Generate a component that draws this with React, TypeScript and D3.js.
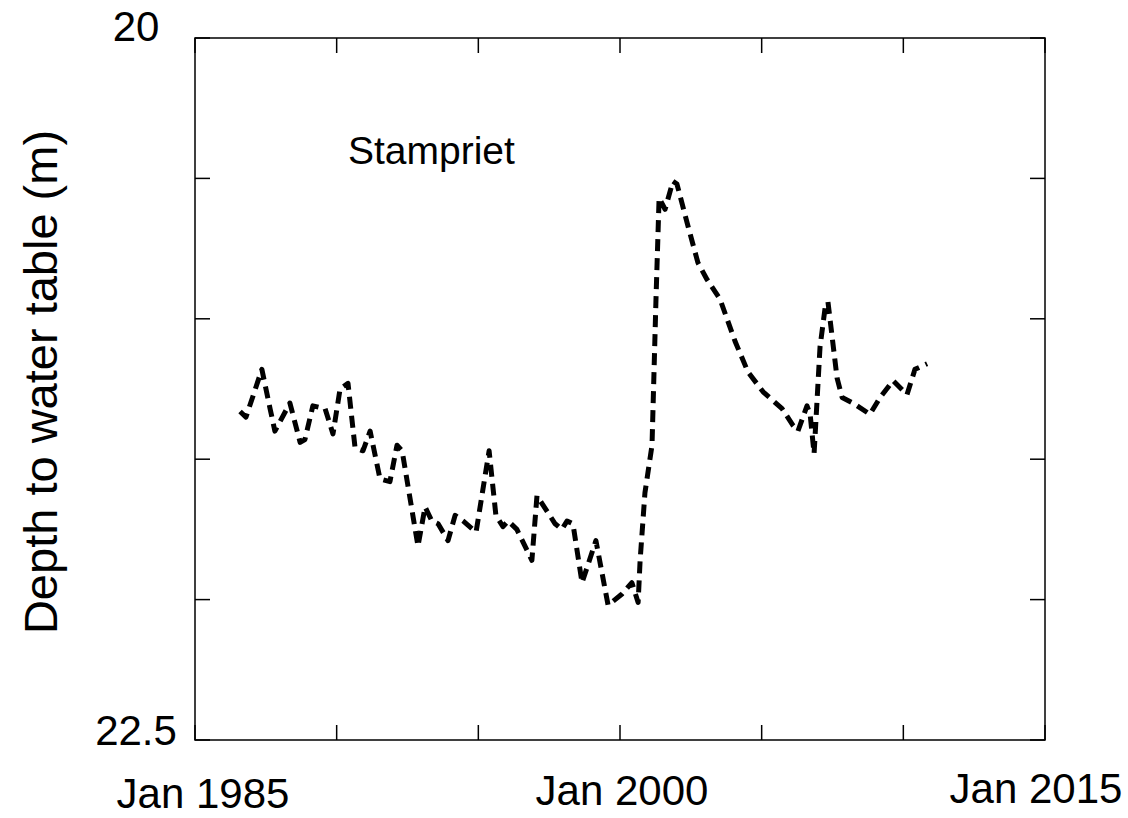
import React from "react";
import * as d3 from "d3";

// Decimal years and depth to water table (m)
const years: number[] = [
  1986.59, 1986.8, 1987.36, 1987.65, 1987.82, 1988.35, 1988.71, 1988.88, 1989.16, 1989.59,
  1989.87, 1990.12, 1990.4, 1990.65, 1990.93, 1991.18, 1991.53, 1991.88, 1992.13, 1992.31,
  1992.87, 1993.12, 1993.36, 1993.58, 1993.93, 1994.18, 1994.46, 1994.92, 1995.38, 1995.62,
  1995.87, 1996.05, 1996.36, 1996.89, 1997.07, 1997.71, 1997.95, 1998.13, 1998.34, 1998.66,
  1999.15, 1999.58, 2000.07, 2000.42, 2000.64, 2000.71, 2000.88, 2001.13, 2001.27, 2001.38,
  2001.59, 2001.87, 2002.01, 2002.4, 2002.75, 2003.07, 2003.53, 2004.06, 2004.52, 2005.05,
  2005.72, 2006.11, 2006.28, 2006.6, 2006.71, 2006.85, 2007.06, 2007.24, 2007.34, 2007.66,
  2007.84, 2008.22, 2008.82, 2009.18, 2009.64, 2010.13, 2010.41, 2010.84,
];
const depths: number[] = [
  21.33, 21.35, 21.18, 21.32, 21.4, 21.3, 21.44, 21.43, 21.31, 21.32,
  21.41, 21.25, 21.23, 21.46, 21.47, 21.4, 21.57, 21.58, 21.45, 21.47,
  21.81, 21.67, 21.72, 21.73, 21.79, 21.7, 21.72, 21.76, 21.47, 21.7,
  21.74, 21.72, 21.75, 21.86, 21.63, 21.73, 21.75, 21.72, 21.73, 21.94,
  21.79, 22.02, 21.98, 21.94, 22.01, 21.86, 21.62, 21.45, 20.93, 20.57,
  20.61, 20.51, 20.52, 20.67, 20.8, 20.86, 20.93, 21.08, 21.19, 21.26,
  21.32, 21.38, 21.4, 21.31, 21.34, 21.48, 21.1, 20.96, 20.94, 21.21,
  21.28, 21.3, 21.34, 21.28, 21.22, 21.27, 21.18, 21.16,
];

const xTicks: number[] = [1985, 1990, 1995, 2000, 2005, 2010, 2015];
const yTicks: number[] = [20, 20.5, 21, 21.5, 22, 22.5];
const xLabels: { value: number; text: string }[] = [
  { value: 1985, text: "Jan 1985" },
  { value: 2000, text: "Jan 2000" },
  { value: 2015, text: "Jan 2015" },
];
const yLabels: { value: number; text: string }[] = [
  { value: 20, text: "20" },
  { value: 22.5, text: "22.5" },
];
const siteName = "Stampriet";
const yTitle = "Depth to water table (m)";

export default function App() {
  const W = 1128;
  const H = 818;
  const left = 195;
  const right = 1045;
  const top = 38;
  const bottom = 740;

  const x = d3.scaleLinear().domain([1985, 2015]).range([left, right]);
  const y = d3.scaleLinear().domain([20, 22.5]).range([top, bottom]);

  const pts = years.map((yr, i) => [yr, depths[i]] as [number, number]);
  const line = d3
    .line<[number, number]>()
    .x((d) => x(d[0]))
    .y((d) => y(d[1]));

  const tickLen = 15;
  const font = "'Liberation Sans', Arial, sans-serif";

  // label offsets (layout only)
  const xLabelPos: Record<string, { dx: number; base: number }> = {
    "Jan 1985": { dx: 8, base: 808 },
    "Jan 2000": { dx: 2, base: 805 },
    "Jan 2015": { dx: -9, base: 803 },
  };
  const yLabelPos: Record<string, { base: number }> = {
    "20": { base: 41 },
    "22.5": { base: 745 },
  };

  return (
    <svg
      width={W}
      height={H}
      style={{ position: "absolute", left: 0, top: 0, background: "#fff" }}
      fontFamily={font}
    >
      <rect x={0} y={0} width={W} height={H} fill="#fff" />
      {/* frame */}
      <rect
        x={left}
        y={top}
        width={right - left}
        height={bottom - top}
        fill="none"
        stroke="#000"
        strokeWidth={1.5}
      />
      {/* x ticks (top and bottom, inward) */}
      {xTicks.map((t) => (
        <g key={"xt" + t}>
          <line x1={x(t)} x2={x(t)} y1={bottom} y2={bottom - tickLen} stroke="#000" strokeWidth={1.5} />
          <line x1={x(t)} x2={x(t)} y1={top} y2={top + tickLen} stroke="#000" strokeWidth={1.5} />
        </g>
      ))}
      {/* y ticks (left and right, inward) */}
      {yTicks.map((t) => (
        <g key={"yt" + t}>
          <line x1={left} x2={left + tickLen} y1={y(t)} y2={y(t)} stroke="#000" strokeWidth={1.5} />
          <line x1={right} x2={right - tickLen} y1={y(t)} y2={y(t)} stroke="#000" strokeWidth={1.5} />
        </g>
      ))}
      {/* x labels */}
      {xLabels.map((l) => (
        <text
          key={l.text}
          x={x(l.value) + xLabelPos[l.text].dx}
          y={xLabelPos[l.text].base}
          textAnchor="middle"
          fontSize={42}
          fill="#000"
        >
          {l.text}
        </text>
      ))}
      {/* y labels */}
      {yLabels.map((l) => (
        <text
          key={l.text}
          x={136}
          y={yLabelPos[l.text].base}
          textAnchor="middle"
          fontSize={42}
          fill="#000"
        >
          {l.text}
        </text>
      ))}
      {/* y title */}
      <text
        transform={`translate(57, 382) rotate(-90)`}
        textAnchor="middle"
        fontSize={47}
        fill="#000"
      >
        {yTitle}
      </text>
      {/* site name */}
      <text x={348} y={164} fontSize={39} fill="#000">
        {siteName}
      </text>
      {/* data line */}
      <path
        d={line(pts) || ""}
        fill="none"
        stroke="#000"
        strokeWidth={5}
        strokeDasharray="12,7"
        strokeLinejoin="round"
      />
    </svg>
  );
}
